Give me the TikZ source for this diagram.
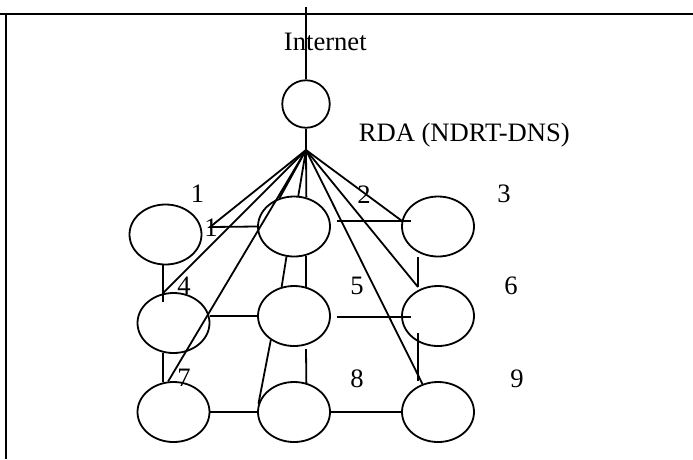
\documentclass[tikz,border=0pt]{standalone}
\usepackage{fontspec}
\setmainfont{Liberation Serif}
\usetikzlibrary{shapes.geometric}

\begin{document}
\begin{tikzpicture}[x=1pt,y=-1pt,line width=1.8pt,
  host/.style={draw,ellipse,minimum width=72pt,minimum height=60pt,inner sep=0pt},
  lbl/.style={anchor=base,inner sep=0pt,font=\fontsize{26.6}{30}\selectfont}]
  \useasboundingbox (0,0) rectangle (693,459);
  \draw (0,14) -- (693,14);
  \draw (6,14) -- (6,459);
  \coordinate (top) at (306,7);
  \coordinate (hub) at (306,150);
  \node[draw,circle,minimum size=47.5pt,inner sep=0pt] (rda) at (306,104) {};
  \node[host] (n1) at (165.5,234.5) {};
  \node[host] (n2) at (294,226.5) {};
  \node[host] (n3) at (438,226.5) {};
  \node[host] (n4) at (173.5,323) {};
  \node[host] (n5) at (294,316) {};
  \node[host] (n6) at (438,316) {};
  \node[host] (n7) at (173.5,412) {};
  \node[host] (n8) at (294,412) {};
  \node[host] (n9) at (438,412) {};
  \coordinate (k1) at (210,227);
  \coordinate (k2) at (337,221);
  \coordinate (k3) at (411,221);
  \coordinate (k4) at (163,302);
  \coordinate (k5) at (337,317);
  \coordinate (k6) at (418,287);
  \coordinate (k7) at (411,317);
  \coordinate (k8) at (306,349);
  \coordinate (k9) at (418,333);
  \node[lbl] (tnet) at (325.3,50) {Internet};
  \node[lbl] (trda) at (464.3,141.7) {RDA (NDRT-DNS)};
  \node[lbl] (t1) at (197.5,202.7) {1};
  \node[lbl] (t1b) at (211,236) {1};
  \node[lbl] (t2) at (364,203) {2};
  \node[lbl] (t3) at (504,202.7) {3};
  \node[lbl] (t4) at (184,294) {4};
  \node[lbl] (t5) at (357,294) {5};
  \node[lbl] (t6) at (511,294) {6};
  \node[lbl] (t7) at (184,386) {7};
  \node[lbl] (t8) at (357,387) {8};
  \node[lbl] (t9) at (517,387) {9};
  % uplink
  \draw (top) -- (rda.north);
  \draw (rda.south) -- (hub);
  % fan out from the RDA
  \draw (hub) -- (k1) -- (n2.west);
  \draw (hub) -- (n4.110);
  \draw (hub) -- (n7.100);
  \draw (hub) -- (n2.117);
  \draw (hub) -- (n2.82);
  \draw (hub) -- (n2.67);
  \draw (hub) -- (n9.119);
  \draw (hub) -- (k6);
  \draw (hub) -- (n3.171);
  % mesh
  \draw (k2) -- (k3);
  \draw (n1.south -| k4) -- (k4);
  \draw (n3.south -| k6) -- (k6);
  \draw (n2.256) -- (n5.113);
  \draw (n2.293) -- (n5.67);
  \draw (n5.west -| n4.east) -- (n5.west);
  \draw (k5) -- (k7);
  \draw (n4.250) -- (n7.110);
  \draw (n5.226) -- (n8.167);
  \draw (k8) -- (n8.67);
  \draw (k9) -- (n9.north -| k9);
  \draw (n7.east) -- (n8.west);
  \draw (n8.east) -- (n9.west);
\end{tikzpicture}
\end{document}
